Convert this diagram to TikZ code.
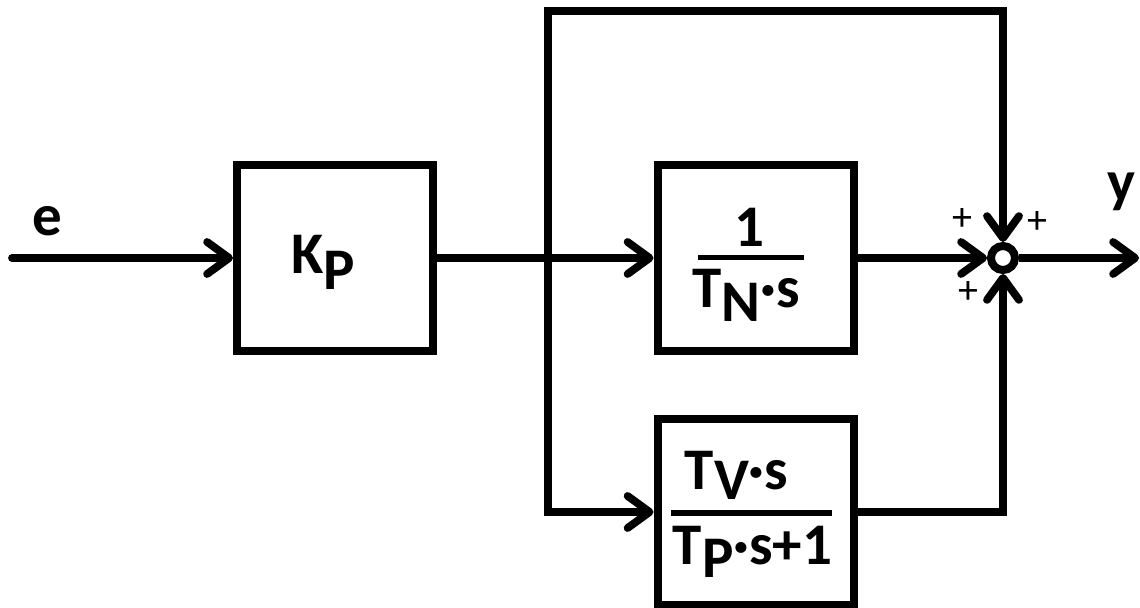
\documentclass[tikz,border=0pt]{standalone}
\usepackage{fontspec}
\setmainfont{Carlito}
\usetikzlibrary{arrows.meta}
\tikzset{
  conn/.style={line width=3.9pt, line join=miter, draw=black},
  tipx/.tip={Straight Barb[length=11pt,width=16pt,line cap=round,line join=round]},
  arr/.style={-tipx},
  blk/.style={draw, line width=4pt, minimum width=98pt, minimum height=93pt, inner sep=0pt},
  sumnode/.style={draw, circle, line width=4pt, minimum size=12pt, inner sep=0pt},
  lbl/.style={font=\fontsize{29.5}{31}\selectfont\bfseries, inner sep=0pt, anchor=base},
  sgn/.style={font=\fontsize{20}{20}\selectfont, inner sep=0pt},
  fbar/.style={draw, line cap=butt}
}
\begin{document}
\begin{tikzpicture}[x=0.5pt,y=-0.5pt]
\useasboundingbox (0,0) rectangle (1140,608);
% blocks
\node[blk] (kp) at (335,258) {};
\node[blk] (b2) at (755.5,258) {};
\node[blk] (b3) at (755.5,512) {};
\node[sumnode] (sum) at (1003,258) {};
% block texts
\node[lbl] (kpt) at (323.5,274) {K\raisebox{-8pt}{P}};
\node[lbl] (b2n) at (749.5,247) {1};
\node[lbl] (b2d) at (746,308) {T\raisebox{-7pt}{N}·s};
\node[lbl] (b3n) at (736.5,490) {T\raisebox{-5pt}{V}·s};
\node[lbl] (b3d) at (752.5,565) {T\raisebox{-6pt}{P}·s+1};
\draw[fbar, line width=2.5pt] (698,258) -- (804,258);
\draw[fbar, line width=3pt] (671,513) -- (832,513);
% signal labels
\node[lbl] (el) at (47,236) {e};
\node[lbl] (yl) at (1121,202) {y};
\node[sgn] (p1) at (962,220) {+};
\node[sgn] (p2) at (1037,223) {+};
\node[sgn] (p3) at (968,293) {+};
% coordinates
\coordinate (ein) at (12,258);
\coordinate (br) at (548,258);
\coordinate (tl) at (548,11);
\coordinate (tr) at (1003,11);
\coordinate (bl) at (548,512);
\coordinate (brr) at (1003,512);
\coordinate (yend) at (1139,258);
% connectors
\draw[conn, arr, line cap=round] (ein) -- (kp.west);
\draw[conn] (kp.east) -- (br);
\draw[conn, arr] (br) -- (b2.west);
\draw[conn, tipx-tipx] (sum.north) -- (tr) -- (tl) -- (bl) -- (b3.west);
\draw[conn, arr] (b3.east) -- (brr) -- (sum.south);
\draw[conn, arr] (b2.east) -- (sum.west);
\draw[conn, arr] (sum.east) -- (yend);
\end{tikzpicture}
\end{document}
